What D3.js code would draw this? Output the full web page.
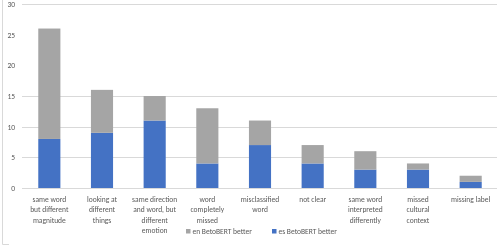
<!DOCTYPE html>
<html>
<head>
<meta charset="utf-8">
<script src="https://cdn.jsdelivr.net/npm/d3@7"></script>
<style>
  body { margin: 0; background: #fff; }
  svg { display: block; will-change: transform; }
  svg text { font-family: Carlito, Calibri, "Liberation Sans", Arial, sans-serif; fill: #595959; }
</style>
</head>
<body>
<svg></svg>
<script>
//================ DATA =========================
const categories = [
  ['same word', 'but different', 'magnitude'],
  ['looking at', 'different', 'things'],
  ['same direction', 'and word, but', 'different', 'emotion'],
  ['word', 'completely', 'missed'],
  ['misclassified', 'word'],
  ['not clear'],
  ['same word', 'interpreted', 'differently'],
  ['missed', 'cultural', 'context'],
  ['missing label']
];
const esBetter = [8, 9, 11, 4, 7, 4, 3, 3, 1];     // blue, bottom
const enBetter = [18, 7, 4, 9, 4, 3, 3, 1, 1];     // gray, stacked on top
const yTicks = [0, 5, 10, 15, 20, 25, 30];
const gridTicks = [0, 5, 10, 15, 30];              // lines visible in the picture
const seriesNames = ['en BetoBERT better', 'es BetoBERT better'];

//================ SETUP =========================
const width = 498;
const height = 246;
const colors = { en: '#a5a5a5', es: '#4472c4' };

const svg = d3.select('svg')
    .attr('width', width)
    .attr('height', height);

// chart border (left / bottom edge, partly cropped in the picture)
svg.append('path')
    .attr('d', 'M2.5,0V244.5H9')
    .attr('fill', 'none')
    .attr('stroke', '#d9d9d9');

const keys = categories.map((c, i) => i);

const x = d3.scaleBand()
    .domain(keys)
    .range([23, 497])
    .paddingInner(0.58)
    .paddingOuter(0.29);

const y = d3.scaleLinear()
    .domain([0, 30])
    .range([188, 4]);

//-------gridlines
svg.append('g')
  .selectAll('line')
  .data(gridTicks)
  .join('line')
    .attr('x1', 22)
    .attr('x2', 497)
    .attr('y1', d => Math.round(y(d)) + 0.5)
    .attr('y2', d => Math.round(y(d)) + 0.5)
    .attr('stroke', '#d9d9d9')
    .attr('stroke-width', 1);

//-------y axis labels
const yAxis = d3.axisLeft(y)
    .tickValues(yTicks)
    .tickSize(0)
    .tickPadding(0);

svg.append('g')
    .attr('transform', 'translate(15,0)')
    .call(yAxis)
    .call(g => g.select('.domain').remove())
    .call(g => g.selectAll('text')
        .attr('font-size', '7.5px')
        .attr('font-family', null)
        .attr('fill', '#595959'));

//-------stacked bars
const rows = keys.map(i => ({ i, es: esBetter[i], en: enBetter[i] }));
const stack = d3.stack().keys(['es', 'en'])(rows);

svg.append('g')
  .selectAll('g')
  .data(stack)
  .join('g')
    .attr('fill', d => colors[d.key])
  .selectAll('rect')
  .data(d => d)
  .join('rect')
    .attr('x', d => x(d.data.i))
    .attr('width', x.bandwidth())
    .attr('y', d => y(d[1]))
    .attr('height', d => y(d[0]) - y(d[1]));

//-------category labels
const labels = svg.append('g')
  .selectAll('text')
  .data(categories)
  .join('text')
    .attr('text-anchor', 'middle')
    .attr('font-size', '7.5px')
    .attr('x', (d, i) => x(i) + x.bandwidth() / 2)
    .attr('y', 202);

labels.selectAll('tspan')
  .data(d => d)
  .join('tspan')
    .attr('x', function () { return this.parentNode.getAttribute('x'); })
    .attr('dy', (d, j) => j === 0 ? 0 : 10.3)
    .text(d => d);

//-------legend
const legendX = [186, 272];
const legend = svg.append('g')
  .selectAll('g')
  .data(seriesNames)
  .join('g')
    .attr('transform', (d, i) => `translate(${legendX[i]},233)`);

legend.append('rect')
    .attr('x', 0)
    .attr('y', -4)
    .attr('width', 4.5)
    .attr('height', 4.5)
    .attr('fill', (d, i) => i === 0 ? colors.en : colors.es);

legend.append('text')
    .attr('x', 6.5)
    .attr('y', 1)
    .attr('font-size', '7.5px')
    .text(d => d);
</script>
</body>
</html>
